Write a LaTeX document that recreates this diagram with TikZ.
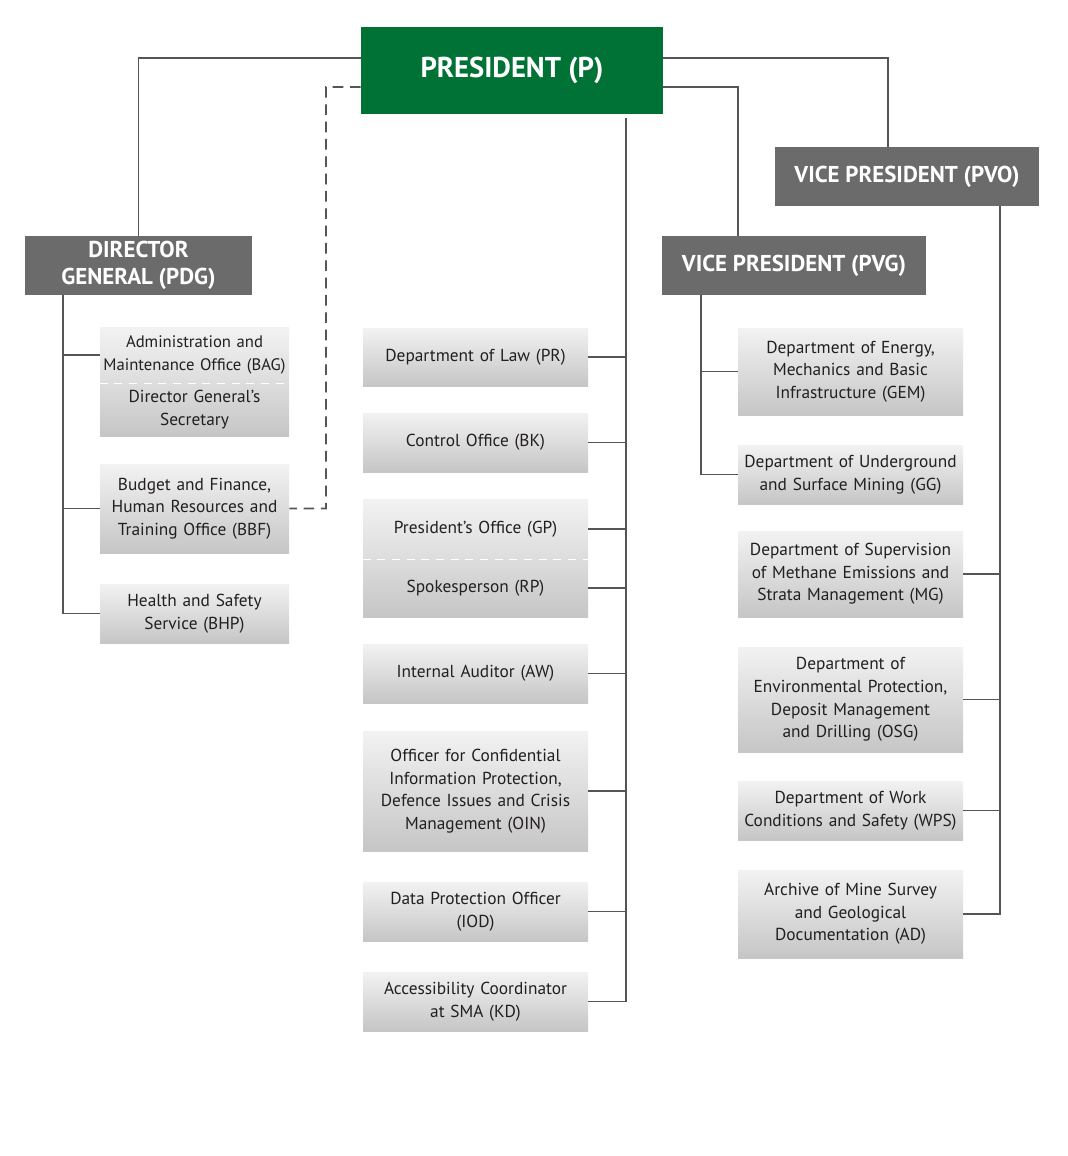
\documentclass[tikz,border=0pt]{standalone}
\usepackage{fontspec}
\setmainfont{PT Sans}
\usetikzlibrary{positioning,calc}
\definecolor{presgreen}{HTML}{007236}
\definecolor{headgray}{HTML}{6B6B6B}
\definecolor{linegray}{HTML}{555555}
\definecolor{textgray}{HTML}{231F20}

\begin{document}
\begin{tikzpicture}[x=0.75pt,y=-0.75pt,
    head/.style={fill=headgray,text=white,font=\fontsize{17.2}{20}\selectfont\bfseries,align=center,inner sep=0pt,minimum height=44.25pt},
    unit/.style={top color=gray!10,bottom color=gray!45,text=textgray,align=center,inner sep=0pt,font=\fontsize{13}{16.9}\selectfont},
    lunit/.style={unit,text width=141.75pt},
    munit/.style={unit,text width=168.75pt},
    link/.style={draw=linegray,line width=1.2pt},
    split/.style={draw=white,line width=1pt,dash pattern=on 6pt off 5pt}]
        \useasboundingbox (0,0) rectangle (1067,1156);

        % top level
        \node[fill=presgreen,text=white,font=\fontsize{21.5}{24}\selectfont\bfseries,minimum width=226.5pt,minimum height=65.25pt,inner sep=0pt] (pres) at (512,70.5) {PRESIDENT (P)};
        \node[head,minimum width=170.25pt] (pdg) at (138.5,265.5) {DIRECTOR\\GENERAL (PDG)};
        \node[head,minimum width=198pt] (pvg) at (794,265.5) {VICE PRESIDENT (PVG)};
        \node[head,minimum width=198pt] (pvo) at (907,176.5) {VICE PRESIDENT (PVO)};

        % director general
        \node[lunit,top color=gray!10,bottom color=gray!27,minimum height=42pt,font=\fontsize{12.5}{16.9}\selectfont] (bag) at (194.5,355) {Administration and\\Maintenance Office (BAG)};
        \node[lunit,top color=gray!27,bottom color=gray!45,minimum height=39.75pt] (sec) at (194.5,409.5) {Director General’s\\Secretary};
        \node[lunit,minimum height=66.75pt] (bbf) at (194.5,508.5) {Budget and Finance,\\Human Resources and\\Training Office (BBF)};
        \node[lunit,minimum height=44.25pt] (bhp) at (194.5,613.5) {Health and Safety\\Service (BHP)};

        % president
        \node[munit,minimum height=43.5pt] (law) at (475.5,357) {Department of Law (PR)};
        \node[munit,minimum height=44.25pt] (bk) at (475.5,442.5) {Control Office (BK)};
        \node[munit,top color=gray!10,bottom color=gray!27,minimum height=45pt] (gp) at (475.5,529) {President’s Office (GP)};
        \node[munit,top color=gray!27,bottom color=gray!45,minimum height=43.5pt] (rp) at (475.5,588) {Spokesperson (RP)};
        \node[munit,minimum height=44.25pt] (aw) at (475.5,673.5) {Internal Auditor (AW)};
        \node[munit,minimum height=90pt] (oin) at (475.5,791) {Officer for Confidential\\Information Protection,\\Defence Issues and Crisis\\Management (OIN)};
        \node[munit,minimum height=44.25pt] (iod) at (475.5,911.5) {Data Protection Officer\\(IOD)};
        \node[munit,minimum height=44.25pt] (kd) at (475.5,1001.5) {Accessibility Coordinator\\at SMA (KD)};

        % vice presidents
        \node[munit,minimum height=65.25pt] (gem) at (850.5,371.5) {Department of Energy,\\Mechanics and Basic\\Infrastructure (GEM)};
        \node[munit,minimum height=44.25pt] (gg) at (850.5,474.5) {Department of Underground\\and Surface Mining (GG)};
        \node[munit,minimum height=64.5pt] (mg) at (850.5,574) {Department of Supervision\\of Methane Emissions and\\Strata Management (MG)};
        \node[munit,minimum height=78.75pt] (osg) at (850.5,699.5) {Department of\\Environmental Protection,\\Deposit Management\\and Drilling (OSG)};
        \node[munit,minimum height=44.25pt] (wps) at (850.5,810.5) {Department of Work\\Conditions and Safety (WPS)};
        \node[munit,minimum height=66pt] (ad) at (850.5,914) {Archive of Mine Survey\\and Geological\\Documentation (AD)};

        \draw[split] (bag.south west) -- (bag.south east);
        \draw[split] (gp.south west) -- (gp.south east);

        \coordinate (pvotap) at (888,147);
        \coordinate (pvgtap) at (738,236);
        \coordinate (dashtop) at (326,87);
        \coordinate (midtop) at (626,118);
        \coordinate (pdgtap) at (63,295);
        \coordinate (pvgbus) at (701,295);
        \coordinate (pvobus) at (1000,206);

        \draw[link] ([yshift=9.4pt]pres.west) -| (pdg.north);
        \draw[link] ([yshift=9.4pt]pres.east) -| (pvotap);
        \draw[link] ([yshift=-12.4pt]pres.east) -| (pvgtap);
        \draw[link,dash pattern=on 8pt off 5pt] ([yshift=-12.4pt]pres.west) -- (dashtop) |- (bbf.east);

        \draw[link] (pdgtap) |- (bhp.west);
        \foreach \n in {bag,bbf}
            \draw[link] (\n.west) -- (\n.west -| pdgtap);

        \draw[link] (midtop) |- (kd.east);
        \foreach \n in {law,bk,gp,rp,aw,oin,iod}
            \draw[link] (\n.east) -- (\n.east -| midtop);

        \draw[link] (pvgbus) |- (gg.west);
        \draw[link] (gem.west) -- (gem.west -| pvgbus);

        \draw[link] (pvobus) |- (ad.east);
        \foreach \n in {mg,osg,wps}
            \draw[link] (\n.east) -- (\n.east -| pvobus);
    \end{tikzpicture}
\end{document}
